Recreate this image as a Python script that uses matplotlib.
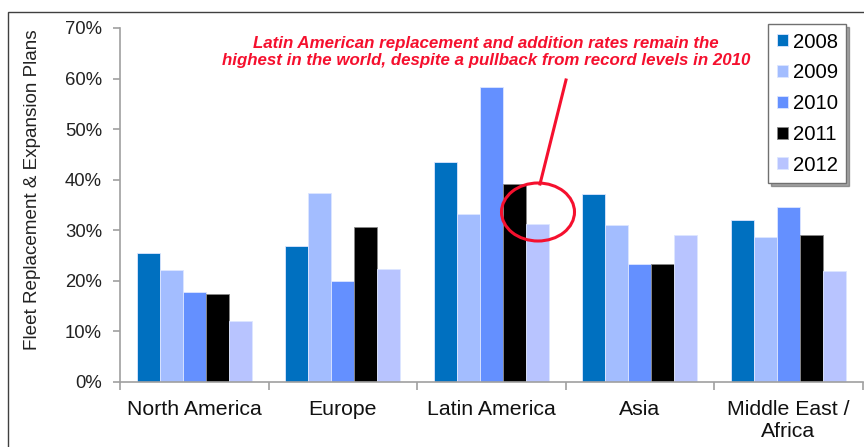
import matplotlib
matplotlib.use("Agg")
import matplotlib.pyplot as plt
from matplotlib.patches import Ellipse, Rectangle
import numpy as np

plt.rcParams['font.family'] = ['Liberation Sans', 'DejaVu Sans']

regions = ["North America", "Europe", "Latin America", "Asia", "Middle East /\nAfrica"]
years = ["2008", "2009", "2010", "2011", "2012"]
values = {
    "2008": [25.6, 26.8, 43.5, 37.2, 32.1],
    "2009": [22.2, 37.3, 33.2, 31.1, 28.7],
    "2010": [17.7, 20.0, 58.4, 23.4, 34.7],
    "2011": [17.4, 30.7, 39.1, 23.4, 29.0],
    "2012": [12.1, 22.3, 31.2, 29.0, 22.0],
}
colors = {
    "2008": "#0070C0",
    "2009": "#A3BDFF",
    "2010": "#6490FF",
    "2011": "#000000",
    "2012": "#B8C4FF",
}
yticks = [0, 10, 20, 30, 40, 50, 60, 70]
ylabel = "Fleet Replacement & Expansion Plans"
note = ("Latin American replacement and addition rates remain the\n"
        "highest in the world, despite a pullback from record levels in 2010")

W, H = 864, 447
fig = plt.figure(figsize=(W / 100, H / 100), dpi=100)

# slide frame
fig.add_artist(Rectangle((8 / W, -0.1), 1.2, 1 - 12 / H + 0.1, transform=fig.transFigure,
                         fill=False, edgecolor="#404040", linewidth=1.0))

ax = fig.add_axes([120 / W, 1 - 382 / H, 742.5 / W, 354 / H])

n = len(years)
x = np.arange(len(regions))
bw = 0.155
for i, yr in enumerate(years):
    ax.bar(x + (i - (n - 1) / 2) * bw, values[yr], width=bw, color=colors[yr],
           edgecolor="#DDE6FF" if yr != "2011" else "#888888", linewidth=0.6, label=yr)

ax.set_xlim(-0.5, len(regions) - 0.5)
ax.set_ylim(0, 70)
ax.set_yticks(yticks)
ax.set_yticklabels([f"{v}%" for v in yticks], fontsize=13.3, color="#222222")
ax.set_xticks(x)
ax.set_xticklabels(regions, fontsize=15.3, color="#111111", linespacing=1.2)
ax.set_xticks(np.arange(len(regions) + 1) - 0.5, minor=True)
ax.tick_params(axis="x", which="major", length=0, pad=13)
ax.tick_params(axis="x", which="minor", length=6, color="#A0A0A0", width=1.2, direction="out")
ax.tick_params(axis="y", length=5, color="#A0A0A0", width=1.2, pad=8)
for s in ("top", "right"):
    ax.spines[s].set_visible(False)
for s in ("left", "bottom"):
    ax.spines[s].set_color("#A0A0A0")
    ax.spines[s].set_linewidth(1.2)
ax.set_ylabel(ylabel, fontsize=13.6, color="#222222", va="center")
ax.yaxis.set_label_coords((33 - 120) / 742.5, (382 - 190) / 354)

leg = ax.legend(loc="upper left", bbox_to_anchor=(768 / W, 1 - 24 / H),
                bbox_transform=fig.transFigure, fontsize=14.6, frameon=True,
                fancybox=False, shadow=True, handlelength=0.55, handleheight=0.55,
                handletextpad=0.25, labelspacing=0.58, borderpad=0.42, borderaxespad=0)
leg.get_frame().set_edgecolor("#707070")
leg.get_frame().set_linewidth(1.0)

red = "#F5102E"
fig.text(486 / W, 1 - 52 / H, note, ha="center", va="center", fontsize=12.2,
         fontweight="bold", fontstyle="italic", color=red, linespacing=1.2)

# callout circle and pointer line
to_data = ax.transData.inverted()
def px(xp, yp):
    return to_data.transform((xp, H - yp))

c = px(538, 212)
e1 = px(538 - 36.5, 212)
e2 = px(538, 212 - 29)
ell = Ellipse(c, width=2 * (c[0] - e1[0]), height=2 * (e2[1] - c[1]),
              fill=False, edgecolor=red, linewidth=2.2, zorder=5)
ax.add_patch(ell)
p0 = px(566, 80)
p1 = px(540, 184)
ax.plot([p0[0], p1[0]], [p0[1], p1[1]], color=red, linewidth=2.2, clip_on=False, zorder=5)

fig.savefig("out.png", dpi=100)
